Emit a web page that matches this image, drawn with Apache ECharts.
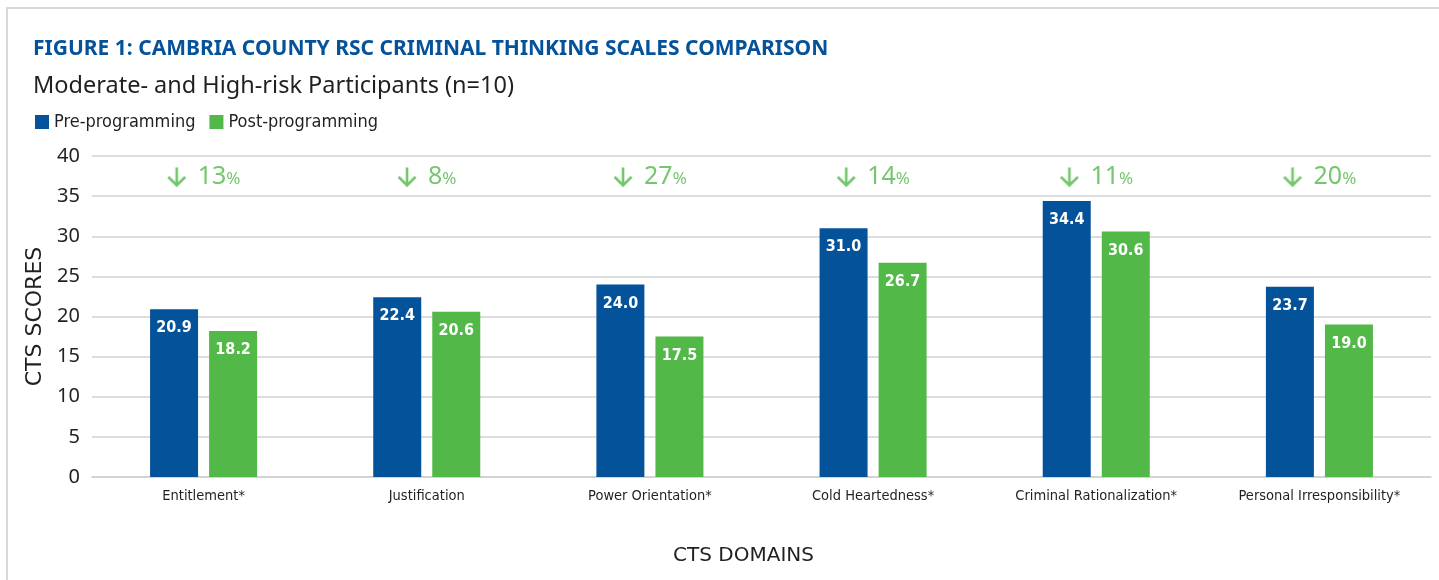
<!DOCTYPE html>
<html>
<head>
<meta charset="UTF-8">
<title>CTS comparison</title>
<script src="https://cdn.jsdelivr.net/npm/echarts@6/dist/echarts.min.js"></script>
<style>
  body { margin: 0; background: #fff; }
  #frame { position: absolute; left: 6px; top: 7px; width: 1440px; height: 580px;
           border-top: 2px solid #d8d8d8; border-left: 2px solid #d8d8d8; pointer-events: none; }
  #main { width: 1439px; height: 580px; }
</style>
</head>
<body>
<div id="frame"></div>
<div id="main"></div>
<script>
// data
var domains = ['Entitlement*', 'Justification', 'Power Orientation*', 'Cold Heartedness*', 'Criminal Rationalization*', 'Personal Irresponsibility*'];
var preScores = [20.9, 22.4, 24.0, 31.0, 34.4, 23.7];
var postScores = [18.2, 20.6, 17.5, 26.7, 30.6, 19.0];
var dropPct = [13, 8, 27, 14, 11, 20];
var yTicks = { min: 0, max: 40, step: 5 };

var BLUE = '#045299', GREEN = '#52b848', INK = '#231f20';
var narrow = "'Liberation Sans Narrow', 'DejaVu Sans Condensed', 'Noto Sans', sans-serif";

// little down arrow glyph used in the change labels
var arrowImg = document.createElement('canvas');
arrowImg.width = 20; arrowImg.height = 20;
(function () {
  var c = arrowImg.getContext('2d');
  c.strokeStyle = GREEN;
  c.lineWidth = 2.6;
  c.beginPath();
  c.moveTo(10, 0.5); c.lineTo(10, 18.5);
  c.moveTo(1.5, 10); c.lineTo(10, 18.5); c.lineTo(18.5, 10);
  c.stroke();
})();

var chart = echarts.init(document.getElementById('main'));

function valueLabel() {
  return {
    show: true, position: 'insideTop', distance: 11,
    color: '#fff', fontWeight: 'bold', fontSize: 16, fontFamily: narrow,
    formatter: function (p) { return p.value.toFixed(1); }
  };
}

chart.setOption({
  animation: false,
  title: [{
    text: 'FIGURE 1: CAMBRIA COUNTY RSC CRIMINAL THINKING SCALES COMPARISON',
    left: 28, top: 34,
    textStyle: { color: BLUE, fontSize: 21, fontWeight: 'bold', fontFamily: 'Noto Sans' }
  }, {
    text: 'Moderate- and High-risk Participants (n=10)',
    left: 28, top: 69,
    textStyle: { color: INK, fontSize: 23.5, fontWeight: 'normal', fontFamily: 'Noto Sans' }
  }],
  legend: {
    data: ['Pre-programming', 'Post-programming'],
    left: 30, top: 108,
    icon: 'rect', itemWidth: 14, itemHeight: 14, itemGap: 14,
    textStyle: { color: INK, fontSize: 18, fontFamily: narrow }
  },
  grid: { left: 92, right: 8, top: 156, bottom: 103 },
  xAxis: {
    type: 'category',
    data: domains,
    axisTick: { show: false },
    axisLine: { lineStyle: { color: '#cfcfcf', width: 1.5 } },
    axisLabel: { color: INK, fontSize: 14.5, fontFamily: narrow, margin: 12 },
    name: 'CTS DOMAINS',
    nameLocation: 'middle',
    nameGap: 69,
    nameTextStyle: { color: INK, fontSize: 20, fontFamily: 'DejaVu Sans', padding: [0, 36, 0, 0] }
  },
  yAxis: {
    type: 'value',
    min: yTicks.min, max: yTicks.max, interval: yTicks.step,
    axisLine: { show: false },
    axisTick: { show: false },
    splitLine: { lineStyle: { color: '#d2d2d2', width: 1.5 } },
    axisLabel: { color: INK, fontSize: 20, fontFamily: 'Noto Sans', margin: 12 },
    name: 'CTS SCORES',
    nameLocation: 'middle',
    nameGap: 40,
    nameTextStyle: { color: INK, fontSize: 22, fontFamily: 'DejaVu Sans' }
  },
  series: [{
    name: 'Pre-programming',
    type: 'bar',
    data: preScores,
    barWidth: 48,
    barGap: '23%',
    itemStyle: { color: BLUE },
    label: valueLabel()
  }, {
    name: 'Post-programming',
    type: 'bar',
    data: postScores,
    barWidth: 48,
    itemStyle: { color: GREEN },
    label: valueLabel()
  }, {
    name: 'change',
    type: 'scatter',
    data: dropPct.map(function () { return 37.4; }),
    symbolSize: 0,
    silent: true,
    label: {
      show: true, position: 'inside',
      formatter: function (p) { return '{a|}{n|' + dropPct[p.dataIndex] + '}{p|%}'; },
      rich: {
        a: { width: 20, height: 20, backgroundColor: { image: arrowImg }, padding: 0 },
        n: { color: GREEN, fontSize: 25, fontFamily: 'Noto Sans', padding: [0, 0, 0, 11] },
        p: { color: GREEN, fontSize: 17, fontFamily: 'Noto Sans', padding: [4, 0, 0, 0] }
      }
    }
  }]
});
</script>
</body>
</html>
